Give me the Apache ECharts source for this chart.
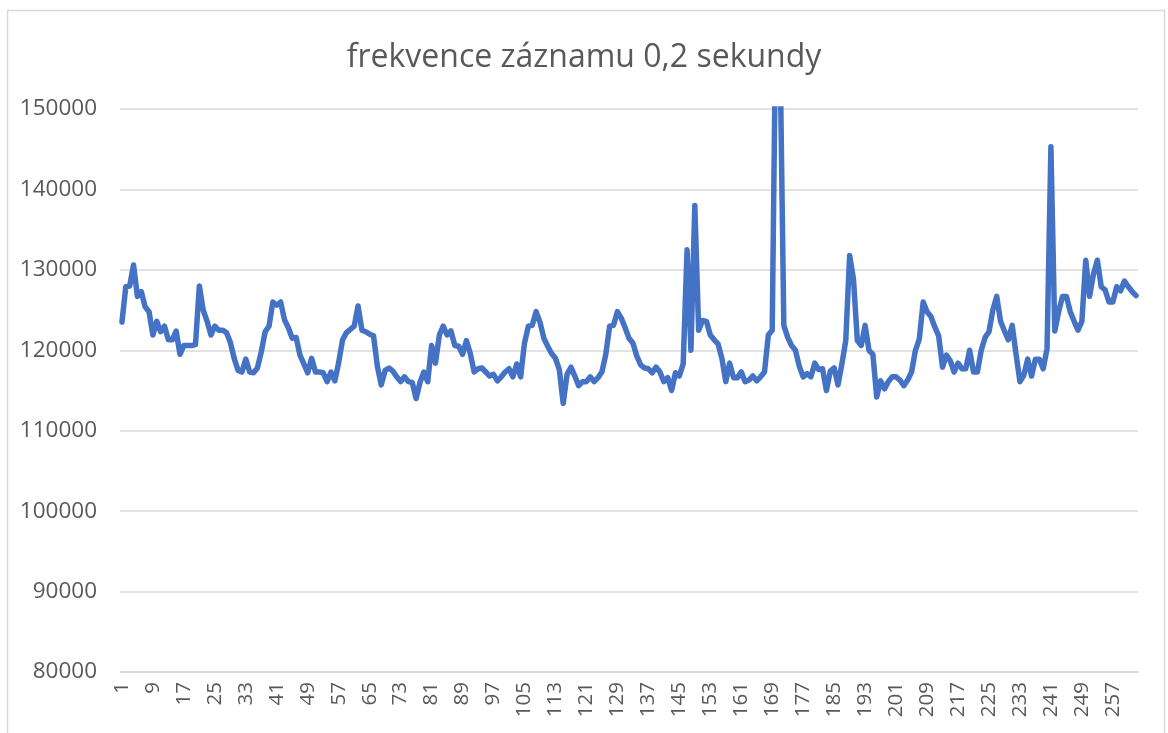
<!DOCTYPE html>
<html>
<head>
<meta charset="utf-8">
<title>frekvence záznamu 0,2 sekundy</title>
<script src="https://cdn.jsdelivr.net/npm/echarts@6/dist/echarts.min.js"></script>
<style>
  html, body { margin: 0; padding: 0; background: #ffffff; }
  #chart { width: 1168px; height: 733px; }
</style>
</head>
<body>
<div id="chart"></div>
<script>
// Chart title
const chartTitle = 'frekvence záznamu 0,2 sekundy';

// Sample numbers 1..263
const categories = Array.from({ length: 263 }, (_, i) => String(i + 1));

// Recorded values, one per sample
const values = [
  123500, 127900, 128000, 130600, 126700, 127300, 125400, 124800, 121900, 123600,
  122300, 123000, 121300, 121300, 122400, 119500, 120600, 120600, 120600, 120700,
  128000, 125000, 123600, 121900, 123000, 122500, 122500, 122200, 121000, 119000,
  117500, 117300, 118900, 117300, 117200, 117800, 119800, 122300, 123000, 126000,
  125600, 126000, 123800, 122800, 121500, 121600, 119400, 118300, 117200, 119000,
  117300, 117300, 117200, 116100, 117300, 116200, 118500, 121300, 122200, 122600,
  123000, 125500, 122500, 122300, 122000, 121800, 118000, 115700, 117500, 117800,
  117400, 116700, 116100, 116700, 116100, 116000, 114000, 116000, 117300, 116100,
  120600, 118400, 121900, 123000, 121900, 122400, 120600, 120500, 119500, 121200,
  119600, 117300, 117700, 117800, 117300, 116800, 117000, 116200, 116700, 117300,
  117700, 116700, 118300, 116700, 120900, 123000, 123100, 124800, 123500, 121500,
  120500, 119600, 119000, 117600, 113400, 117000, 117900, 116800, 115600, 116100,
  116100, 116700, 116100, 116600, 117300, 119500, 123000, 123100, 124800, 124000,
  122800, 121500, 120900, 119300, 118200, 117800, 117700, 117200, 117900, 117300,
  116100, 116600, 115000, 117200, 116800, 118300, 132500, 120000, 138000, 122500,
  123700, 123600, 121900, 121300, 120800, 119000, 116100, 118400, 116600, 116600,
  117300, 116100, 116300, 116800, 116200, 116700, 117300, 121900, 122500, 165000,
  158000, 123100, 121600, 120600, 120000, 118000, 116700, 117100, 116700, 118400,
  117600, 117700, 115000, 117400, 117800, 115700, 118300, 121200, 131800, 128800,
  121200, 120600, 123100, 120000, 119500, 114200, 116200, 115200, 116100, 116700,
  116700, 116300, 115600, 116300, 117300, 120000, 121400, 126000, 124800, 124200,
  122900, 121800, 117900, 119400, 118700, 117300, 118400, 117700, 117700, 120000,
  117300, 117300, 120000, 121600, 122300, 125000, 126700, 123600, 122400, 121300,
  123100, 119500, 116100, 116900, 118900, 116800, 118900, 118900, 117700, 120200,
  145300, 122400, 124800, 126700, 126700, 124800, 123600, 122500, 123600, 131200,
  126700, 129500, 131200, 127900, 127500, 126000, 126000, 127900, 127400, 128600,
  127900, 127300, 126800
];

// Value axis range
const yMin = 80000;
const yMax = 150000;
const yStep = 10000;

const textColor = '#595959';
const gridColor = '#d9d9d9';
const fontFamily = '"Open Sans", "Liberation Sans", sans-serif';

const chart = echarts.init(document.getElementById('chart'), null, { renderer: 'canvas' });

chart.setOption({
  animation: false,
  backgroundColor: '#ffffff',
  graphic: [{
    type: 'rect',
    shape: { x: 7.5, y: 10.5, width: 1157, height: 740 },
    style: { fill: 'none', stroke: gridColor, lineWidth: 1.5 },
    silent: true
  }],
  title: {
    text: chartTitle,
    left: 'center',
    top: 37,
    textStyle: {
      color: textColor,
      fontFamily: fontFamily,
      fontSize: 32,
      fontWeight: 'normal'
    }
  },
  grid: {
    left: 120,
    right: 30,
    top: 109,
    bottom: 61,
    containLabel: false
  },
  xAxis: {
    type: 'category',
    data: categories,
    boundaryGap: true,
    axisLine: { show: true, lineStyle: { color: gridColor, width: 1.5 } },
    axisTick: { show: false },
    axisLabel: {
      interval: 7,
      rotate: 90,
      margin: 10,
      color: textColor,
      fontFamily: fontFamily,
      fontSize: 20.5
    },
    splitLine: { show: false }
  },
  yAxis: {
    type: 'value',
    min: yMin,
    max: yMax,
    interval: yStep,
    axisLine: { show: false },
    axisTick: { show: false },
    axisLabel: {
      margin: 23,
      color: textColor,
      fontFamily: fontFamily,
      fontSize: 22.5,
      formatter: (v) => String(v)
    },
    splitLine: { show: true, lineStyle: { color: gridColor, width: 1.5 } }
  },
  series: [{
    type: 'line',
    data: values,
    showSymbol: false,
    symbol: 'none',
    clip: true,
    lineStyle: { color: '#4472C4', width: 5.5, join: 'round', cap: 'round' },
    itemStyle: { color: '#4472C4' }
  }]
});
</script>
</body>
</html>
